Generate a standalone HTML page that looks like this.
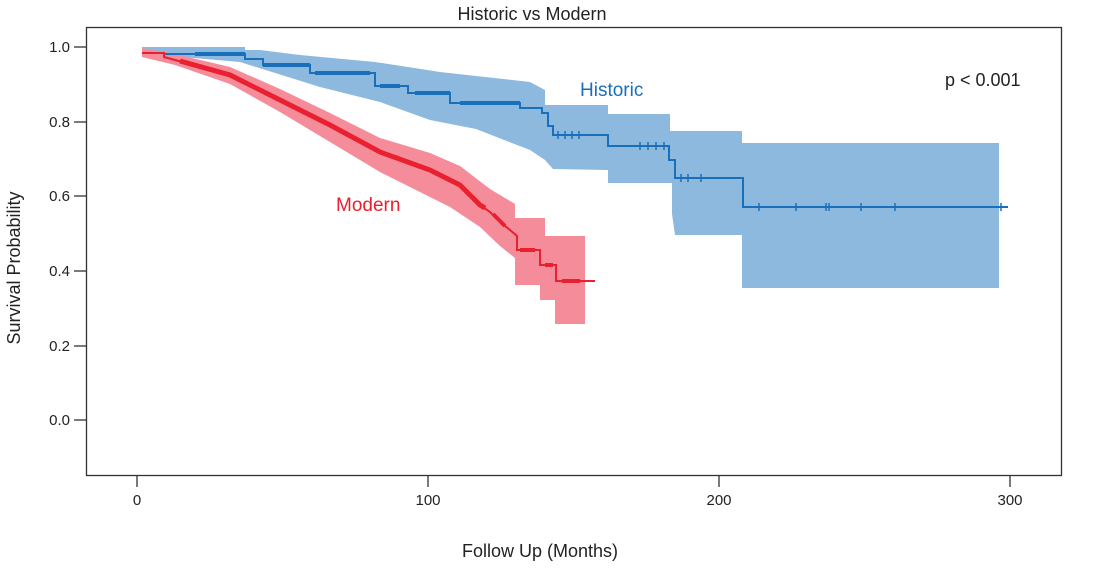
<!DOCTYPE html>
<html><head><meta charset="utf-8"><style>
html,body{margin:0;padding:0;background:#fff;}
svg{display:block;font-family:"Liberation Sans",sans-serif;}
</style></head><body>
<svg width="1093" height="574" viewBox="0 0 1093 574" xmlns="http://www.w3.org/2000/svg">
<text x="532" y="20" font-size="18" text-anchor="middle" fill="#222">Historic vs Modern</text>
<polygon fill="#8db9de" points="142,47 245,47 245,50 260,50 300,55 375,62 440,72 530,82 545,90 545,105 608,105 608,114 670,114 670,131 742,131 742,143 999,143 999,288 742,288 742,235 675,235 672,214 672,183 608,183 608,170 553,169 545,160 530,150 476,129 430,120 380,102 320,87 272,72 240,62 160,55 142,55"/>
<polygon fill="#f48d99" points="142,48 175,54 230,67 280,89 330,113 380,138 430,153 460,166 490,189 515,204 515,218 545,218 545,236 585,236 585,324 555,324 555,300 540,300 540,285 515,285 515,258 500,246 480,227 450,207 420,192 380,172 330,142 280,112 230,84 175,65 142,57"/>
<polyline fill="none" stroke="#1a6fba" stroke-width="2" points="165,54 245,54 245,59 263,59 263,65 310,65 310,73 375,73 375,86 408,86 408,93 450,93 450,103 520,103 520,108 542,108 542,113 548,113 548,126 553,126 553,135 608,135 608,146 669,146 669,160 675,160 675,178 743,178 743,207 1008,207"/>
<g stroke="#1a6fba" stroke-width="4"><line x1="195" y1="54" x2="245" y2="54"/><line x1="263" y1="65" x2="310" y2="65"/><line x1="315" y1="73" x2="370" y2="73"/><line x1="380" y1="86" x2="400" y2="86"/><line x1="415" y1="93" x2="450" y2="93"/><line x1="460" y1="103" x2="520" y2="103"/></g>
<g stroke="#1a6fba" stroke-width="1.5"><line x1="558" y1="131" x2="558" y2="139"/><line x1="565" y1="131" x2="565" y2="139"/><line x1="572" y1="131" x2="572" y2="139"/><line x1="579" y1="131" x2="579" y2="139"/><line x1="640" y1="142" x2="640" y2="150"/><line x1="648" y1="142" x2="648" y2="150"/><line x1="656" y1="142" x2="656" y2="150"/><line x1="664" y1="142" x2="664" y2="150"/><line x1="681" y1="174" x2="681" y2="182"/><line x1="688" y1="174" x2="688" y2="182"/><line x1="701" y1="174" x2="701" y2="182"/><line x1="759" y1="203" x2="759" y2="211"/><line x1="796" y1="203" x2="796" y2="211"/><line x1="826" y1="203" x2="826" y2="211"/><line x1="829" y1="203" x2="829" y2="211"/><line x1="861" y1="203" x2="861" y2="211"/><line x1="895" y1="203" x2="895" y2="211"/><line x1="1001" y1="203" x2="1001" y2="211"/></g>
<polyline fill="none" stroke="#e8202f" stroke-width="2" points="142,53 164,53 164,57 175,60 230,75 280,100 330,125 380,152 430,170 460,185 480,205 490,212 500,222 510,230 517,236 517,250 540,250 540,265 556,265 556,281 595,281"/>
<polyline fill="none" stroke="#e8202f" stroke-width="5" points="180,61 230,75 280,100 330,125 380,152 430,170 460,185 480,205 485,208"/>
<g stroke="#e8202f" stroke-width="4"><line x1="493" y1="214" x2="505" y2="226"/><line x1="520" y1="250" x2="535" y2="250"/><line x1="545" y1="265" x2="553" y2="265"/><line x1="562" y1="281" x2="580" y2="281"/></g>
<rect x="86.5" y="27.5" width="975" height="448" fill="none" stroke="#333" stroke-width="1.3"/>
<g stroke="#333" stroke-width="1.3">
<line x1="74" y1="47" x2="86" y2="47"/><line x1="74" y1="122" x2="86" y2="122"/><line x1="74" y1="196" x2="86" y2="196"/><line x1="74" y1="271" x2="86" y2="271"/><line x1="74" y1="346" x2="86" y2="346"/><line x1="74" y1="420" x2="86" y2="420"/>
<line x1="137" y1="476" x2="137" y2="487"/><line x1="428" y1="476" x2="428" y2="487"/><line x1="719" y1="476" x2="719" y2="487"/><line x1="1010" y1="476" x2="1010" y2="487"/>
</g>
<g font-size="15" fill="#222" text-anchor="end">
<text x="70" y="52">1.0</text><text x="70" y="127">0.8</text><text x="70" y="201">0.6</text><text x="70" y="276">0.4</text><text x="70" y="351">0.2</text><text x="70" y="425">0.0</text>
</g>
<g font-size="15" fill="#222" text-anchor="middle">
<text x="137" y="505">0</text><text x="428" y="505">100</text><text x="719" y="505">200</text><text x="1010" y="505">300</text>
</g>
<text x="540" y="557" font-size="18" text-anchor="middle" fill="#222">Follow Up (Months)</text>
<text transform="translate(20,268) rotate(-90)" font-size="18" text-anchor="middle" fill="#222">Survival Probability</text>
<text x="580" y="96" font-size="19" fill="#1a6fba">Historic</text>
<text x="336" y="211" font-size="19" fill="#e8202f">Modern</text>
<text x="945" y="86" font-size="18" fill="#222">p &lt; 0.001</text>
</svg>
</body></html>
